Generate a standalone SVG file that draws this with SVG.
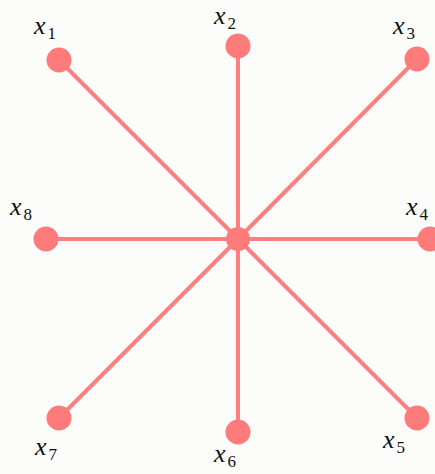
<svg xmlns="http://www.w3.org/2000/svg" width="435" height="474" viewBox="0 0 435 474">
<style>
.e{stroke:#fd8080;stroke-width:4;stroke-linecap:round}
.n{fill:#fd7b7b}
.l{font-family:'Liberation Serif','DejaVu Serif',serif;font-style:italic;font-size:26px;fill:#111}
.s{font-style:normal;font-size:17px}
</style>
<rect width="435" height="474" fill="#fcfdfb"/>
<g id="edges">
<line class="e" x1="238" y1="239" x2="59" y2="60"/>
<line class="e" x1="238" y1="239" x2="238" y2="46"/>
<line class="e" x1="238" y1="239" x2="417" y2="59"/>
<line class="e" x1="238" y1="239" x2="430" y2="239"/>
<line class="e" x1="238" y1="239" x2="417" y2="418"/>
<line class="e" x1="238" y1="239" x2="238" y2="432"/>
<line class="e" x1="238" y1="239" x2="59" y2="418"/>
<line class="e" x1="238" y1="239" x2="46" y2="239"/>
</g>
<g id="c"><circle class="n" cx="238" cy="239" r="12"/></g>
<g id="n1"><circle class="n" cx="59" cy="60" r="12.5"/><text class="l" x="34" y="34">x<tspan class="s" dx="2" dy="5">1</tspan></text></g>
<g id="n2"><circle class="n" cx="238" cy="46" r="12.5"/><text class="l" x="214" y="24">x<tspan class="s" dx="2" dy="5">2</tspan></text></g>
<g id="n3"><circle class="n" cx="417" cy="59" r="12.5"/><text class="l" x="393" y="34">x<tspan class="s" dx="2" dy="5">3</tspan></text></g>
<g id="n4"><circle class="n" cx="430" cy="239" r="12.5"/><text class="l" x="406" y="215">x<tspan class="s" dx="2" dy="5">4</tspan></text></g>
<g id="n5"><circle class="n" cx="417" cy="418" r="12.5"/><text class="l" x="383" y="448">x<tspan class="s" dx="2" dy="5">5</tspan></text></g>
<g id="n6"><circle class="n" cx="238" cy="432" r="12.5"/><text class="l" x="214" y="462">x<tspan class="s" dx="2" dy="5">6</tspan></text></g>
<g id="n7"><circle class="n" cx="59" cy="418" r="12.5"/><text class="l" x="35" y="455">x<tspan class="s" dx="2" dy="5">7</tspan></text></g>
<g id="n8"><circle class="n" cx="46" cy="239" r="12.5"/><text class="l" x="10" y="215">x<tspan class="s" dx="2" dy="5">8</tspan></text></g>
</svg>
